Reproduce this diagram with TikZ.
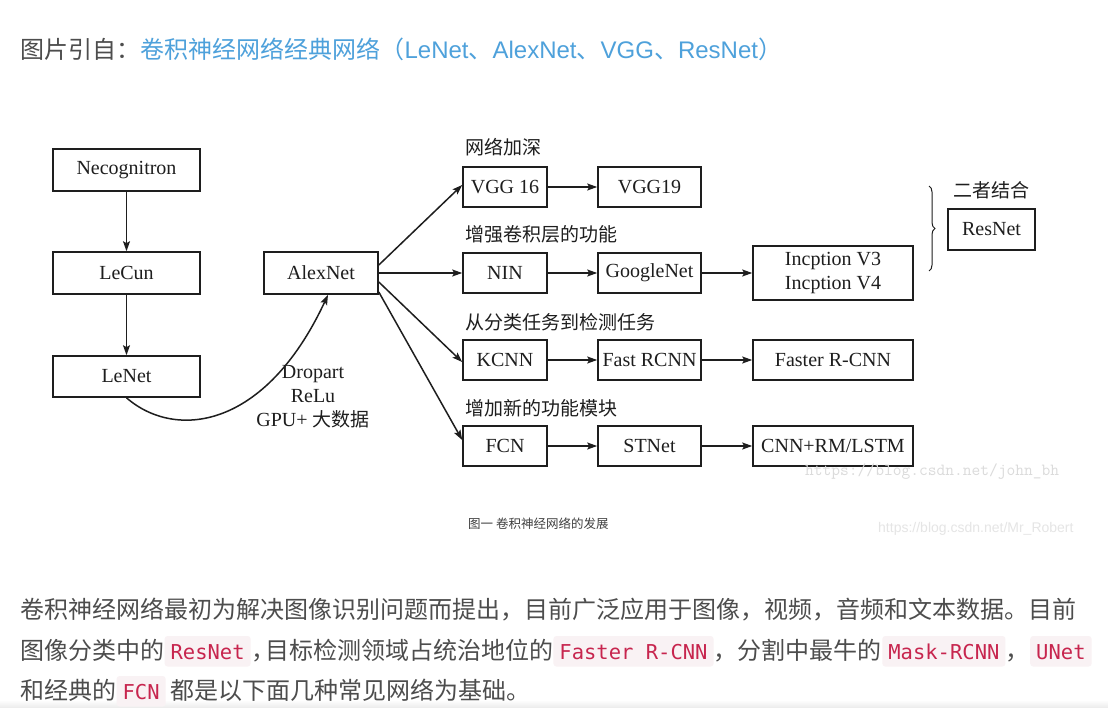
\documentclass[tikz,border=0pt]{standalone}
\usepackage{fontspec}
\setmainfont{Liberation Serif}
\newfontfamily\cjk{Noto Sans CJK SC}
\newfontfamily\lsans{Liberation Sans}
\newfontfamily\dmono{DejaVu Sans Mono}
\usetikzlibrary{arrows.meta,decorations.pathreplacing,calc}
\definecolor{ink}{HTML}{1E1E1E}
\definecolor{txtgray}{HTML}{4D4D4D}
\definecolor{linkblue}{HTML}{4EA1DB}
\definecolor{codebg}{HTML}{F9F2F4}
\definecolor{codered}{HTML}{C7254E}
\newcommand\diagfont{\fontsize{20pt}{24pt}\selectfont}
\newcommand\diagcjk{\cjk\fontsize{19pt}{23pt}\selectfont}
\tikzset{
  box/.style={draw=ink, line width=1.6pt, inner sep=0pt, font=\diagfont, text=ink, align=center},
  arr/.style={draw=ink, line width=1.5pt, -{Stealth[length=10pt,width=7pt,inset=2pt]}},
  grplabel/.style={anchor=west, inner sep=0pt, font=\diagcjk, text=ink},
  para/.style={inner sep=0pt, font=\cjk\fontsize{24pt}{28pt}\selectfont, text=txtgray},
  headlink/.style={inner sep=0pt, font=\cjk\fontsize{24pt}{28pt}\selectfont, text=linkblue},
  codespan/.style={fill=codebg, text=codered, rounded corners=3pt, inner xsep=6pt, inner ysep=6pt,
    text height=17pt, text depth=1.5pt, font=\dmono\fontsize{20.5pt}{24pt}\selectfont}
}
\begin{document}
\begin{tikzpicture}[x=1pt,y=-1pt]
\useasboundingbox (0,0) rectangle (1108,712);
\fill[white] (0,0) rectangle (1108,712);
\shade[top color=white, bottom color=black!7] (0,700) rectangle (1108,707);

% header
\node[para, anchor=base west] (h1) at (20,58) {图片引自：};
\node[headlink, anchor=base west] (h2) at (h1.base east) {卷积神经网络经典网络（{\lsans LeNet}、{\lsans AlexNet}、{\lsans VGG}、{\lsans ResNet}）};

% diagram boxes
\node[box, minimum width=147pt, minimum height=42pt] (nec) at (126.5,170) {Necognitron};
\node[box, minimum width=147pt, minimum height=42pt] (lecun) at (126.5,273) {LeCun};
\node[box, minimum width=147pt, minimum height=41pt] (lenet) at (126.5,376.5) {LeNet};
\node[box, minimum width=114pt, minimum height=42pt] (alex) at (321,273) {AlexNet};

\node[box, minimum width=84pt, minimum height=40pt] (vgg16) at (505,187) {VGG 16};
\node[box, minimum width=103pt, minimum height=40pt] (vgg19) at (649.5,187) {VGG19};
\node[box, minimum width=84pt, minimum height=40pt] (nin) at (505,273) {NIN};
\node[box, minimum width=103pt, minimum height=40pt] (google) at (649.5,273) {GoogleNet};
\node[box, minimum width=160pt, minimum height=54pt] (incep) at (833,273) {Incption V3\\Incption V4};
\node[box, minimum width=87pt, minimum height=41pt] (resnet) at (991.5,229.5) {ResNet};
\node[box, minimum width=84pt, minimum height=40pt] (kcnn) at (505,360) {KCNN};
\node[box, minimum width=103pt, minimum height=40pt] (fast) at (649.5,360) {Fast RCNN};
\node[box, minimum width=160pt, minimum height=40pt] (faster) at (833,360) {Faster R-CNN};
\node[box, minimum width=84pt, minimum height=40pt] (fcn) at (505,446) {FCN};
\node[box, minimum width=103pt, minimum height=40pt] (stnet) at (649.5,446) {STNet};
\node[box, minimum width=160pt, minimum height=40pt] (cnnrm) at (833,446) {CNN+RM/LSTM};

% group labels
\node[grplabel] (g1) at (465,147) {网络加深};
\node[grplabel] (g2) at (465,234) {增强卷积层的功能};
\node[grplabel] (g3) at (465,322) {从分类任务到检测任务};
\node[grplabel] (g4) at (465,408) {增加新的功能模块};
\node[grplabel] (g5) at (953,190) {二者结合};

% curve label
\node[inner sep=0pt, font=\diagfont, text=ink, align=center] (tricks) at (313,397)
  {Dropart\\ReLu\\GPU+ {\diagcjk 大数据}};

% connectors
\draw[arr] (nec.south) -- (lecun.north);
\draw[arr] (lecun.south) -- (lenet.north);
\draw[arr] (lenet.south) .. controls (175,440) and (265,430) .. ([xshift=7pt]alex.south);

\draw[arr] ([yshift=8pt]alex.east) -- ([yshift=2pt]vgg16.west);
\draw[arr] (alex.east) -- (nin.west);
\draw[arr] ([yshift=-9pt]alex.east) -- ([yshift=-2pt]kcnn.west);
\draw[arr] ([yshift=-19pt]alex.east) -- ([yshift=6pt]fcn.west);

\draw[arr] (vgg16.east) -- (vgg19.west);
\draw[arr] (nin.east) -- (google.west);
\draw[arr] (google.east) -- (incep.west);
\draw[arr] (kcnn.east) -- (fast.west);
\draw[arr] (fast.east) -- (faster.west);
\draw[arr] (fcn.east) -- (stnet.west);
\draw[arr] (stnet.east) -- (cnnrm.west);

% brace
\coordinate (bt) at (929,186);
\coordinate (bb) at (929,271);
\draw[ink, line width=1pt, decorate, decoration={brace, amplitude=6pt}] (bt) -- (bb);

% watermarks and caption
\node[anchor=base west, inner sep=0pt, text=black!14, font=\ttfamily\fontsize{17pt}{20pt}\selectfont] (wm1) at (805,475) {https://blog.csdn.net/john\_bh};
\node[anchor=base west, inner sep=0pt, text=black!75, font=\cjk\fontsize{12.5pt}{14pt}\selectfont] (cap) at (468,528) {图一 卷积神经网络的发展};
\node[anchor=base west, inner sep=0pt, text=black!10, font=\lsans\fontsize{14pt}{16pt}\selectfont] (wm2) at (878,532) {https://blog.csdn.net/Mr\_Robert};

% paragraph
\node[para, anchor=base west] (p1) at (20,618) {卷积神经网络最初为解决图像识别问题而提出，目前广泛应用于图像，视频，音频和文本数据。目前};

\node[para, anchor=base west] (p2a) at (20,659) {图像分类中的};
\node[codespan, anchor=base west] (p2b) at (p2a.base east) {ResNet};
\node[para, anchor=base west] (p2c) at (p2b.base east) {，\hspace{-10pt}目标检测领域占统治地位的};
\node[codespan, anchor=base west] (p2d) at (p2c.base east) {Faster R-CNN};
\node[para, anchor=base west] (p2e) at (p2d.base east) {，分割中最牛的};
\node[codespan, anchor=base west] (p2f) at (p2e.base east) {Mask-RCNN};
\node[para, anchor=base west] (p2g) at (p2f.base east) {，\hspace{-9.5pt}};
\node[codespan, anchor=base west] (p2h) at (p2g.base east) {UNet};

\node[para, anchor=base west] (p3a) at (20,699) {和经典的};
\node[codespan, anchor=base west] (p3b) at (p3a.base east) {FCN};
\node[para, anchor=base west] (p3c) at (p3b.base east) {\hspace{4pt}都是以下面几种常见网络为基础。};
\end{tikzpicture}
\end{document}
